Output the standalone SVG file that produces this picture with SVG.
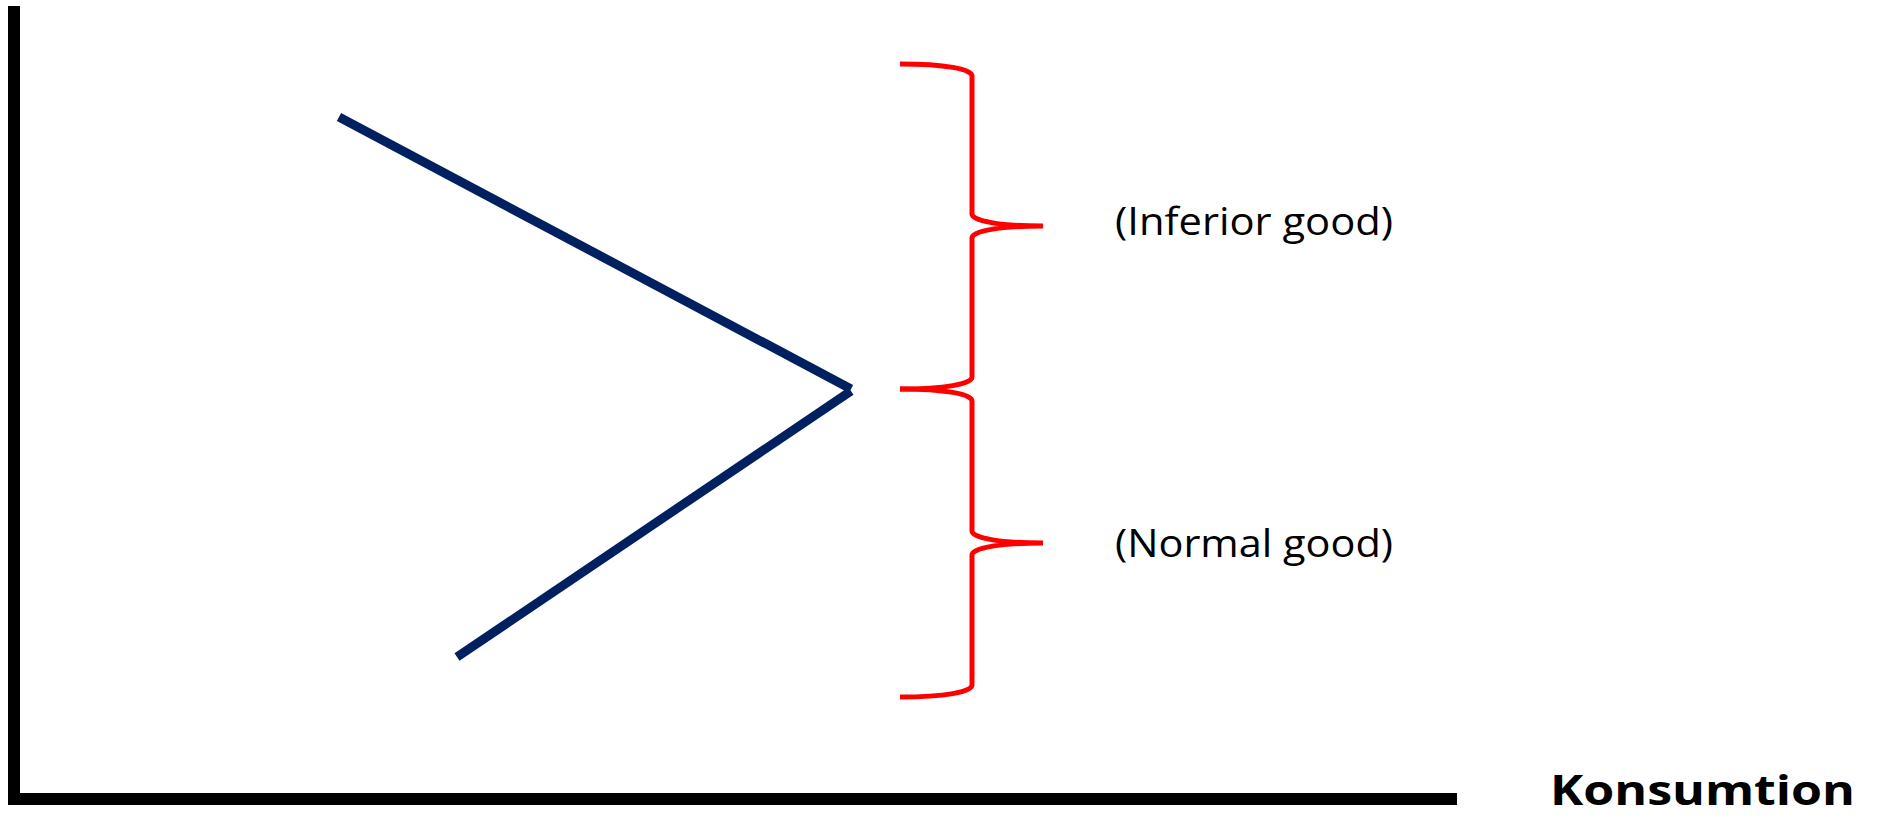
<svg xmlns="http://www.w3.org/2000/svg" width="1890" height="823" viewBox="0 0 1890 823">
  <style>
    .axis { stroke: #000; stroke-width: 12; fill: none; }
    .curve { stroke: #002060; stroke-width: 9; fill: none; }
    .brace { stroke: #ff0000; stroke-width: 5; fill: none; }
    .label { font-family: "Open Sans", "Liberation Sans", sans-serif; font-size: 39px; fill: #000; }
    .axis-label { font-family: "Open Sans", "Liberation Sans", sans-serif; font-size: 42px; font-weight: bold; fill: #000; }
  </style>
  <rect width="1890" height="823" fill="#fff"/>

  <!-- Axes -->
  <g id="axes">
    <line class="axis" x1="14" y1="6" x2="14" y2="805"/>
    <line class="axis" x1="8" y1="799" x2="1457" y2="799"/>
  </g>

  <!-- Kinked curve -->
  <g id="connectors">
    <line class="curve" x1="339" y1="117" x2="851" y2="389"/>
    <line class="curve" x1="851" y1="391" x2="457" y2="657"/>
  </g>

  <!-- Upper brace -->
  <g id="brace-inferior">
    <path class="brace" d="M900,64 C945,64 972,69 972,76 L972,214 C972,221 1000,226 1043,226 C1000,226 972,231 972,238 L972,377 C972,384 945,389 900,389"/>
  </g>

  <!-- Lower brace -->
  <g id="brace-normal">
    <path class="brace" d="M900,389 C945,389 972,394 972,401 L972,531 C972,538 1000,543 1043,543 C1000,543 972,548 972,555 L972,685 C972,692 945,697 900,697"/>
  </g>

  <g id="label-inferior">
    <text class="label" x="1115" y="235" textLength="278" lengthAdjust="spacingAndGlyphs">(Inferior good)</text>
  </g>
  <g id="label-normal">
    <text class="label" x="1115" y="557" textLength="278" lengthAdjust="spacingAndGlyphs">(Normal good)</text>
  </g>
  <g id="label-x">
    <text class="axis-label" x="1550" y="805" textLength="305" lengthAdjust="spacingAndGlyphs">Konsumtion</text>
  </g>
</svg>
